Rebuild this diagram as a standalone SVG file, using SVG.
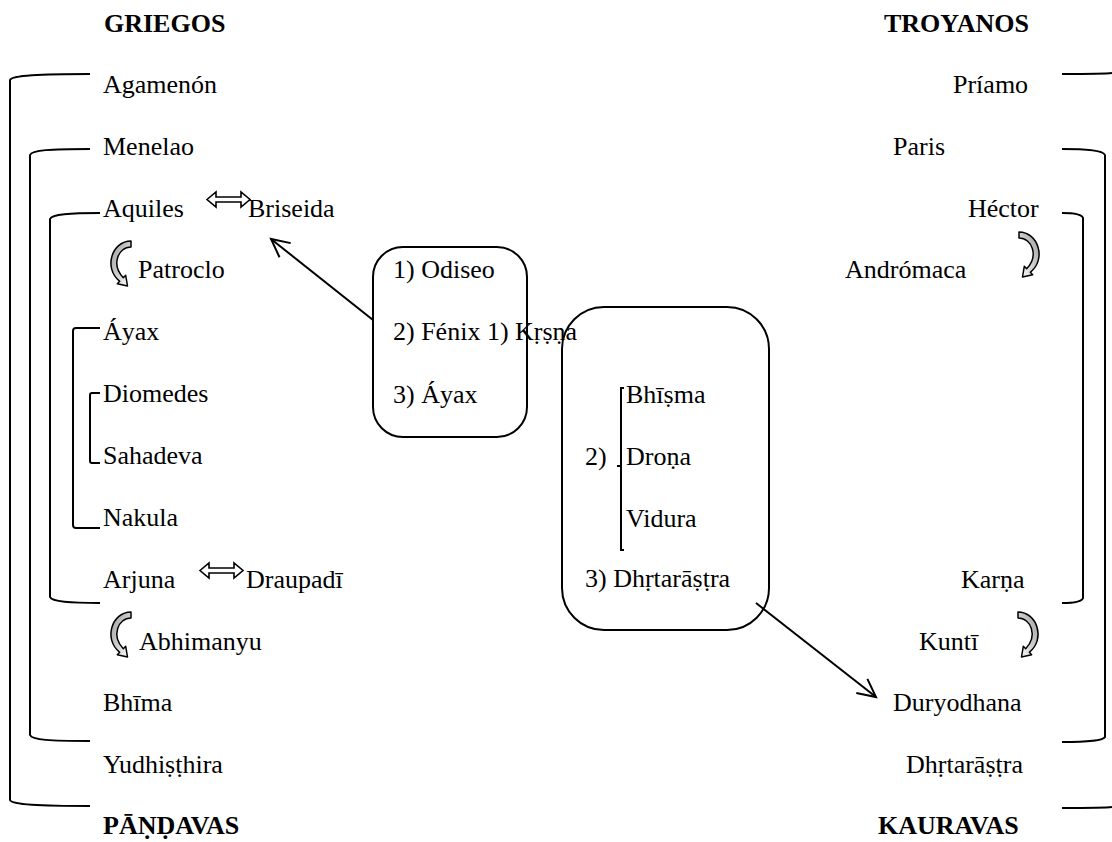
<svg xmlns="http://www.w3.org/2000/svg" width="1112" height="842" viewBox="0 0 1112 842">
<style>
text{font-family:'Liberation Serif','Times New Roman',serif;font-size:26px;fill:#000}
.b{font-weight:bold}
.br{fill:none;stroke:#000;stroke-width:2}
.box{fill:none;stroke:#000;stroke-width:2}
.con{fill:none;stroke:#000;stroke-width:2}
.dbl{fill:#fff;stroke:#000;stroke-width:1.6;stroke-linejoin:miter}
.crv{fill:url(#g);stroke:#000;stroke-width:1.5;stroke-linejoin:round}
</style>
<defs>
<linearGradient id="g" x1="0" y1="0" x2="1" y2="1">
<stop offset="0" stop-color="#9a9a9a"/>
<stop offset="1" stop-color="#ffffff"/>
</linearGradient>
<marker id="ah" markerUnits="userSpaceOnUse" markerWidth="24" markerHeight="24" refX="20" refY="10" orient="auto" viewBox="0 0 24 20">
<path d="M2,1 L20,10 L2,19" fill="none" stroke="#000" stroke-width="2"/>
</marker>
<path id="crvL" class="crv" d="M23,0 L23,6 C10,6 3,24 15.3,36.7 L17.7,34.3 L19.5,45 L9.3,42.7 L11.7,40.3 C-5,27 4,0 23,0 Z"/>
<path id="dbl" class="dbl" d="M0,7.5 L9,0 L9,5 L34,5 L34,0 L43,7.5 L34,15 L34,10 L9,10 L9,15 Z"/>
</defs>

<g id="headers">
<text class="b" x="104" y="32">GRIEGOS</text>
<text class="b" x="884" y="32">TROYANOS</text>
<text class="b" x="103" y="834">PĀṆḌAVAS</text>
<text class="b" x="878" y="834">KAURAVAS</text>
</g>

<g id="brackets">
<path class="br" d="M90,74 C40,74 12,75 10,80 L10,800 C12,805 40,806 90,806"/>
<path class="br" d="M90,149 C50,149 32,150 30,155 L30,735 C32,740 50,741 90,741"/>
<path class="br" d="M100,213 C70,213 52,214 50,219 L50,597 C52,602 70,603 100,603"/>
<path class="br" d="M100,328 L76,328 Q73,328 73,331 L73,525 Q73,528 76,528 L100,528"/>
<path class="br" d="M100,393 L92,393 Q90,393 90,395 L90,461 Q90,463 92,463 L100,463"/>
<path class="br" d="M1062,74 C1090,74 1105,74 1112,73"/>
<path class="br" d="M1062,808 C1090,808 1105,808 1112,807"/>
<path class="br" d="M1062,149 C1085,149 1103,150 1105,155 L1105,737 C1103,741 1085,742 1062,742"/>
<path class="br" d="M1062,213 C1072,213 1082,214 1083,218 L1083,598 C1082,602 1072,603 1062,603"/>
</g>

<g id="left-names">
<text x="103" y="93">Agamenón</text>
<text x="103" y="155">Menelao</text>
<text x="103" y="217">Aquiles</text>
<text x="248" y="217">Briseida</text>
<text x="138" y="278">Patroclo</text>
<text x="103" y="340">Áyax</text>
<text x="103" y="402">Diomedes</text>
<text x="103" y="464">Sahadeva</text>
<text x="103" y="526">Nakula</text>
<text x="103" y="588">Arjuna</text>
<text x="246" y="588">Draupadī</text>
<text x="139" y="650">Abhimanyu</text>
<text x="103" y="711">Bhīma</text>
<text x="103" y="773">Yudhiṣṭhira</text>
</g>

<g id="right-names">
<text x="953" y="93">Príamo</text>
<text x="893" y="155">Paris</text>
<text x="968" y="217">Héctor</text>
<text x="845" y="278">Andrómaca</text>
<text x="961" y="588">Karṇa</text>
<text x="919" y="650">Kuntī</text>
<text x="893" y="711">Duryodhana</text>
<text x="906" y="773">Dhṛtarāṣṭra</text>
</g>

<g id="symbols">
<use href="#dbl" x="207" y="192"/>
<use href="#dbl" x="200" y="563"/>
<use href="#crvL" x="108" y="241"/>
<use href="#crvL" x="108" y="612"/>
<use href="#crvL" transform="translate(1042,232) scale(-1,1)"/>
<use href="#crvL" transform="translate(1041,612) scale(-1,1)"/>
</g>

<g id="box-greek">
<rect class="box" x="373" y="247" width="154" height="190" rx="30" ry="30"/>
<text x="393" y="278">1) Odiseo</text>
<text x="393" y="340">2) Fénix 1) Kṛṣṇa</text>
<text x="393" y="403">3) Áyax</text>
</g>

<g id="box-indian">
<rect class="box" x="562" y="307" width="207" height="323" rx="42" ry="42"/>
<path class="br" d="M624,388 L621,388 L621,550 L624,550 M617,466 L621,466"/>
<text x="585" y="465">2)</text>
<text x="626" y="403">Bhīṣma</text>
<text x="626" y="465">Droṇa</text>
<text x="626" y="527">Vidura</text>
<text x="585" y="587">3) Dhṛtarāṣṭra</text>
</g>

<g id="connectors">
<line class="con" x1="373" y1="320" x2="271" y2="239" marker-end="url(#ah)"/>
<line class="con" x1="756" y1="603" x2="876" y2="697" marker-end="url(#ah)"/>
</g>
</svg>
